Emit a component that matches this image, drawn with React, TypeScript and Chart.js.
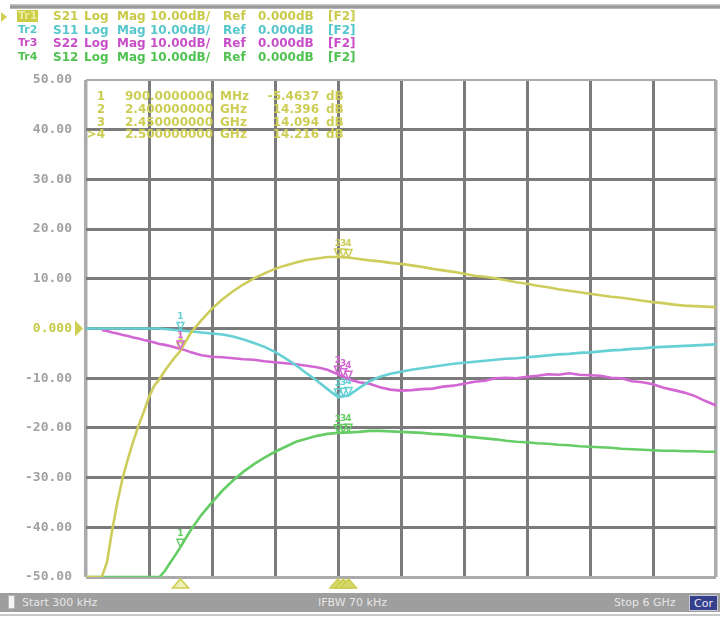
import React, { useEffect, useRef } from "react";
import { Chart, registerables } from "chart.js";

Chart.register(...registerables);

// ---------- data ----------
const FREQ_GHZ = [
  0, 0.05, 0.1, 0.15, 0.2, 0.25, 0.3, 0.35, 0.4, 0.45, 0.5, 0.55, 0.6, 0.65, 0.7, 0.75, 0.8, 0.85, 0.9, 0.95,
  1.0, 1.1, 1.2, 1.3, 1.4, 1.5, 1.6, 1.7, 1.8, 1.9, 2.0, 2.1, 2.2, 2.3, 2.4, 2.5, 2.6, 2.7, 2.8, 2.9,
  3.0, 3.1, 3.2, 3.3, 3.4, 3.5, 3.6, 3.7, 3.8, 3.9, 4.0, 4.1, 4.2, 4.3, 4.4, 4.5, 4.6, 4.7, 4.8, 4.9,
  5.0, 5.1, 5.2, 5.3, 5.4, 5.5, 5.6, 5.7, 5.8, 5.9, 6.0,
];

const S21_DB = [
  -50, -50, -50, -50, -47, -40.5, -34.8, -30, -26.2, -22.7, -19.6, -16.8, -13.8, -11.5, -10.2, -8.5, -7.1, -5.7, -4.5, -2.6,
  -0.8, 1.7, 4.0, 5.9, 7.5, 8.9, 10.1, 11.1, 12.0, 12.7, 13.3, 13.8, 14.1, 14.4, 14.4, 14.3, 14.0, 13.7, 13.5, 13.2,
  13.0, 12.7, 12.4, 12.0, 11.7, 11.4, 11.0, 10.6, 10.4, 10.1, 9.7, 9.3, 9.0, 8.6, 8.3, 7.9, 7.6, 7.3, 7.0, 6.7,
  6.4, 6.2, 5.9, 5.6, 5.3, 5.1, 4.8, 4.6, 4.5, 4.4, 4.3,
];

const S11_DB = [
  0, 0, 0, 0, 0, 0, 0, 0, 0, 0, 0, 0, 0, 0, 0, -0.1, -0.2, -0.3, -0.4, -0.5,
  -0.6, -0.8, -1.0, -1.2, -1.6, -2.2, -2.9, -3.7, -4.7, -6.0, -7.4, -9.0, -10.5, -12.2, -13.8, -13.5, -12.0, -10.6, -9.7, -9.1,
  -8.7, -8.3, -8.0, -7.7, -7.4, -7.1, -6.9, -6.7, -6.5, -6.3, -6.1, -6.0, -5.8, -5.6, -5.4, -5.2, -5.1, -4.9, -4.8, -4.6,
  -4.4, -4.3, -4.1, -4.0, -3.8, -3.7, -3.6, -3.5, -3.4, -3.3, -3.2,
];

const S22_DB = [
  null, null, null, -0.3, -0.5, -0.8, -1.0, -1.3, -1.5, -1.8, -2.0, -2.3, -2.5, -2.8, -3.1, -3.3, -3.5, -3.8, -4.1, -4.4,
  -4.8, -5.4, -5.7, -5.8, -6.0, -6.2, -6.3, -6.6, -6.8, -7.0, -7.2, -7.5, -7.8, -8.3, -9.2, -10.2, -10.8, -11.1, -11.8, -12.3,
  -12.5, -12.4, -12.2, -12.1, -11.7, -11.5, -11.1, -10.7, -10.5, -10.0, -9.9, -10.0, -9.7, -9.5, -9.2, -9.3, -9.0, -9.3, -9.4, -9.5,
  -9.9, -10.0, -10.6, -10.8, -11.2, -11.9, -12.4, -12.9, -13.6, -14.6, -15.5,
];

const S12_DB = [
  -50, -50, -50, -50, -50, -50, -50, -50, -50, -50, -50, -50, -50, -50, -50, -48.8, -47.2, -45.6, -44.0, -42.2,
  -40.5, -37.5, -35.0, -32.6, -30.6, -28.8, -27.3, -26.0, -24.8, -23.8, -22.8, -22.2, -21.6, -21.2, -21.0, -20.9, -20.8, -20.6, -20.6, -20.7,
  -20.8, -20.9, -21.0, -21.2, -21.3, -21.5, -21.7, -21.9, -22.1, -22.3, -22.6, -22.8, -22.9, -23.1, -23.2, -23.4, -23.5, -23.7, -23.8, -23.9,
  -24.0, -24.2, -24.3, -24.4, -24.5, -24.6, -24.6, -24.7, -24.7, -24.8, -24.8,
];

const TRACE_NAMES = ["Tr1", "Tr2", "Tr3", "Tr4"];
const TRACE_PARAMS = ["S21", "S11", "S22", "S12"];
const HEADER_WORDS = ["Log", "Mag", "10.00dB/", "Ref", "0.000dB", "[F2]"];

const Y_MIN = -50;
const Y_MAX = 50;
const Y_STEP = 10;
const X_GRID_GHZ = [0, 0.6, 1.2, 1.8, 2.4, 3.0, 3.6, 4.2, 4.8, 5.4, 6.0];

const MARKER_FREQS_GHZ = [0.9, 2.4, 2.45, 2.5];
const MARKER_LABELS = ["1", "2", "3", ">4"];
const MARKER_FREQ_TEXT = ["900.0000000", "2.400000000", "2.450000000", "2.500000000"];
const MARKER_UNITS = ["MHz", "GHz", "GHz", "GHz"];
const MARKER_VALUES = ["-5.4637", "14.396", "14.094", "14.216"];

const FOOTER_START = "Start 300 kHz";
const FOOTER_IFBW = "IFBW 70 kHz";
const FOOTER_STOP = "Stop 6 GHz";

// ---------- styles ----------
const SERIES = [S21_DB, S11_DB, S22_DB, S12_DB];
const LINE_COLORS = ["#cdcd5c", "#66d0d4", "#d266d2", "#66cc66"];
const TEXT_COLORS = ["#c9c94a", "#55c7cc", "#c84ec8", "#50c250"];
const GRID_DARK = "#7b7b7b";
const GRID_LIGHT = "#ababab";
const LABEL_GRAY = "#a2a2a2";

function valueAt(series: (number | null)[], f: number): number | null {
  for (let i = 0; i < FREQ_GHZ.length - 1; i++) {
    const a = FREQ_GHZ[i];
    const b = FREQ_GHZ[i + 1];
    if (f >= a && f <= b) {
      const va = series[i];
      const vb = series[i + 1];
      if (va == null || vb == null) return va ?? vb;
      return va + ((vb - va) * (f - a)) / (b - a);
    }
  }
  return null;
}

const overlayPlugin = {
  id: "vnaOverlay",
  afterDatasetsDraw(chart: any) {
    const { ctx, chartArea } = chart;
    const x = chart.scales.x;
    const y = chart.scales.y;
    ctx.save();
    // trace markers
    SERIES.forEach((s, i) => {
      MARKER_FREQS_GHZ.forEach((f, k) => {
        const v = valueAt(s, f);
        if (v == null) return;
        const px = x.getPixelForValue(f);
        const py = y.getPixelForValue(v);
        ctx.strokeStyle = LINE_COLORS[i];
        ctx.lineWidth = 1.5;
        ctx.beginPath();
        ctx.moveTo(px - 3.5, py - 8);
        ctx.lineTo(px + 3.5, py - 8);
        ctx.lineTo(px, py);
        ctx.closePath();
        ctx.stroke();
        ctx.fillStyle = LINE_COLORS[i];
        ctx.font = 'bold 9px "DejaVu Sans"';
        ctx.textAlign = "center";
        ctx.textBaseline = "bottom";
        ctx.fillText(String(k + 1), px, py - 9);
      });
    });
    // stimulus markers below the grid
    MARKER_FREQS_GHZ.forEach((f, k) => {
      const px = x.getPixelForValue(f);
      const top = chartArea.bottom + 2;
      ctx.beginPath();
      ctx.moveTo(px - 8, top + 9);
      ctx.lineTo(px + 8, top + 9);
      ctx.lineTo(px, top);
      ctx.closePath();
      ctx.fillStyle = k === 0 ? "#efefb8" : "#d8d86a";
      ctx.fill();
      ctx.strokeStyle = "#cccc50";
      ctx.lineWidth = 1.5;
      ctx.stroke();
    });
    // reference level arrow
    const ry = y.getPixelForValue(0);
    ctx.beginPath();
    ctx.moveTo(75, ry - 8);
    ctx.lineTo(83, ry);
    ctx.lineTo(75, ry + 8);
    ctx.closePath();
    ctx.fillStyle = "#cfcf52";
    ctx.fill();
    ctx.restore();
  },
};

export default function App() {
  const canvasRef = useRef<HTMLCanvasElement>(null);

  useEffect(() => {
    const canvas = canvasRef.current;
    if (!canvas) return;
    const chart = new Chart(canvas, {
      type: "line",
      data: {
        datasets: SERIES.map((s, i) => ({
          label: TRACE_PARAMS[i],
          data: FREQ_GHZ.map((f, j) => ({ x: f, y: s[j] })),
          borderColor: LINE_COLORS[i],
          backgroundColor: LINE_COLORS[i],
          borderWidth: 2.6,
          pointRadius: 0,
          tension: 0,
          spanGaps: false,
          fill: false,
        })),
      },
      options: {
        animation: false,
        responsive: false,
        devicePixelRatio: 1,
        layout: { padding: { top: 80, bottom: 41, left: 0, right: 4 } },
        plugins: { legend: { display: false }, tooltip: { enabled: false } },
        scales: {
          x: {
            type: "linear",
            min: X_GRID_GHZ[0],
            max: X_GRID_GHZ[X_GRID_GHZ.length - 1],
            afterBuildTicks: (scale: any) => {
              scale.ticks = X_GRID_GHZ.map((v) => ({ value: v }));
            },
            afterFit: (scale: any) => {
              scale.height = 0;
            },
            ticks: { display: false },
            border: { display: false },
            grid: {
              drawTicks: false,
              lineWidth: (c: any) =>
                c.tick && (c.tick.value === X_GRID_GHZ[0] || c.tick.value === X_GRID_GHZ[X_GRID_GHZ.length - 1]) ? 3.5 : 3,
              color: (c: any) =>
                c.tick && (c.tick.value === X_GRID_GHZ[0] || c.tick.value === X_GRID_GHZ[X_GRID_GHZ.length - 1])
                  ? GRID_LIGHT
                  : GRID_DARK,
            },
          },
          y: {
            type: "linear",
            min: Y_MIN,
            max: Y_MAX,
            afterFit: (scale: any) => {
              scale.width = 86;
            },
            border: { display: false },
            grid: {
              drawTicks: false,
              lineWidth: (c: any) => (c.tick && c.tick.value === Y_MAX ? 2 : 3),
              color: (c: any) =>
                c.tick && (c.tick.value === Y_MIN || c.tick.value === Y_MAX) ? GRID_LIGHT : GRID_DARK,
            },
            ticks: {
              stepSize: Y_STEP,
              padding: 14,
              color: (c: any) => (c.tick && c.tick.value === 0 ? "#c9c94a" : LABEL_GRAY),
              font: { family: '"DejaVu Sans Mono", monospace', size: 13, weight: "bold" },
              callback: (v: any) => (Number(v) === 0 ? "0.000" : Number(v).toFixed(2)),
            },
          },
        },
      },
      plugins: [overlayPlugin],
    } as any);
    return () => chart.destroy();
  }, []);

  const headerLefts = [53, 84, 117, 150, 223, 258, 328];

  return (
    <div
      style={{
        position: "absolute",
        left: 0,
        top: 0,
        width: 720,
        height: 618,
        background: "#ffffff",
        overflow: "hidden",
        fontFamily: '"DejaVu Sans", sans-serif',
      }}
    >
      <canvas
        ref={canvasRef}
        width={720}
        height={618}
        style={{ position: "absolute", left: 0, top: 0, width: 720, height: 618 }}
      />
      {/* top bar */}
      <div
        style={{
          position: "absolute",
          left: 10,
          top: 4,
          width: 710,
          height: 5,
          background: "linear-gradient(#cfcfcf, #8c8c8c 60%, #c4c4c4)",
        }}
      />
      {/* active trace arrow */}
      <div
        style={{
          position: "absolute",
          left: 1,
          top: 12,
          width: 0,
          height: 0,
          borderTop: "5px solid transparent",
          borderBottom: "5px solid transparent",
          borderLeft: "6px solid #cfcf52",
        }}
      />
      {/* header lines */}
      {TRACE_NAMES.map((name, i) => {
        const top = 10 + i * 13.5;
        const words = [TRACE_PARAMS[i], ...HEADER_WORDS];
        return (
          <React.Fragment key={name}>
            <span
              style={{
                position: "absolute",
                left: 17,
                top,
                height: 12,
                lineHeight: "12px",
                padding: "0 1px",
                fontSize: 11,
                fontWeight: "bold",
                color: i === 0 ? "#ecec9e" : TEXT_COLORS[i],
                background: i === 0 ? "#cccc44" : "transparent",
                whiteSpace: "nowrap",
              }}
            >
              {name}
            </span>
            {words.map((w, k) => (
              <span
                key={k}
                style={{
                  position: "absolute",
                  left: headerLefts[k],
                  top,
                  lineHeight: "12px",
                  fontSize: 12,
                  fontWeight: "bold",
                  color: TEXT_COLORS[i],
                  whiteSpace: "nowrap",
                }}
              >
                {w}
              </span>
            ))}
          </React.Fragment>
        );
      })}
      {/* marker table */}
      {MARKER_LABELS.map((lab, k) => {
        const top = 90 + k * 12.8;
        const base = {
          position: "absolute" as const,
          top,
          lineHeight: "13px",
          fontSize: 12,
          fontWeight: "bold" as const,
          color: "#cdcd55",
          whiteSpace: "nowrap" as const,
        };
        return (
          <React.Fragment key={lab}>
            <span style={{ ...base, left: 84, width: 21, textAlign: "right" }}>{lab}</span>
            <span style={{ ...base, left: 125 }}>{MARKER_FREQ_TEXT[k]}</span>
            <span style={{ ...base, left: 220 }}>{MARKER_UNITS[k]}</span>
            <span style={{ ...base, left: 250, width: 69, textAlign: "right" }}>{MARKER_VALUES[k]}</span>
            <span style={{ ...base, left: 326 }}>dB</span>
          </React.Fragment>
        );
      })}
      {/* footer bar */}
      <div style={{ position: "absolute", left: 0, top: 593, width: 720, height: 19, background: "#9e9e9e" }} />
      <div style={{ position: "absolute", left: 0, top: 614, width: 720, height: 2, background: "#c8c8c8" }} />
      <div
        style={{
          position: "absolute",
          left: 8,
          top: 595,
          width: 7,
          height: 14,
          background: "#f4f4f4",
          border: "1px solid #b8b8b8",
          boxSizing: "border-box",
        }}
      />
      {[
        { t: FOOTER_START, l: 22 },
        { t: FOOTER_IFBW, l: 318 },
        { t: FOOTER_STOP, l: 614 },
      ].map((o) => (
        <span
          key={o.t}
          style={{
            position: "absolute",
            left: o.l,
            top: 596,
            lineHeight: "13px",
            fontSize: 11,
            color: "#e6e6e6",
            whiteSpace: "nowrap",
          }}
        >
          {o.t}
        </span>
      ))}
      <div
        style={{
          position: "absolute",
          left: 689,
          top: 595,
          width: 29,
          height: 16,
          background: "#34408c",
          color: "#e8e8f4",
          fontSize: 11,
          lineHeight: "16px",
          textAlign: "center",
          border: "1px solid #c8c8d8",
          boxSizing: "border-box",
        }}
      >
        Cor
      </div>
    </div>
  );
}
